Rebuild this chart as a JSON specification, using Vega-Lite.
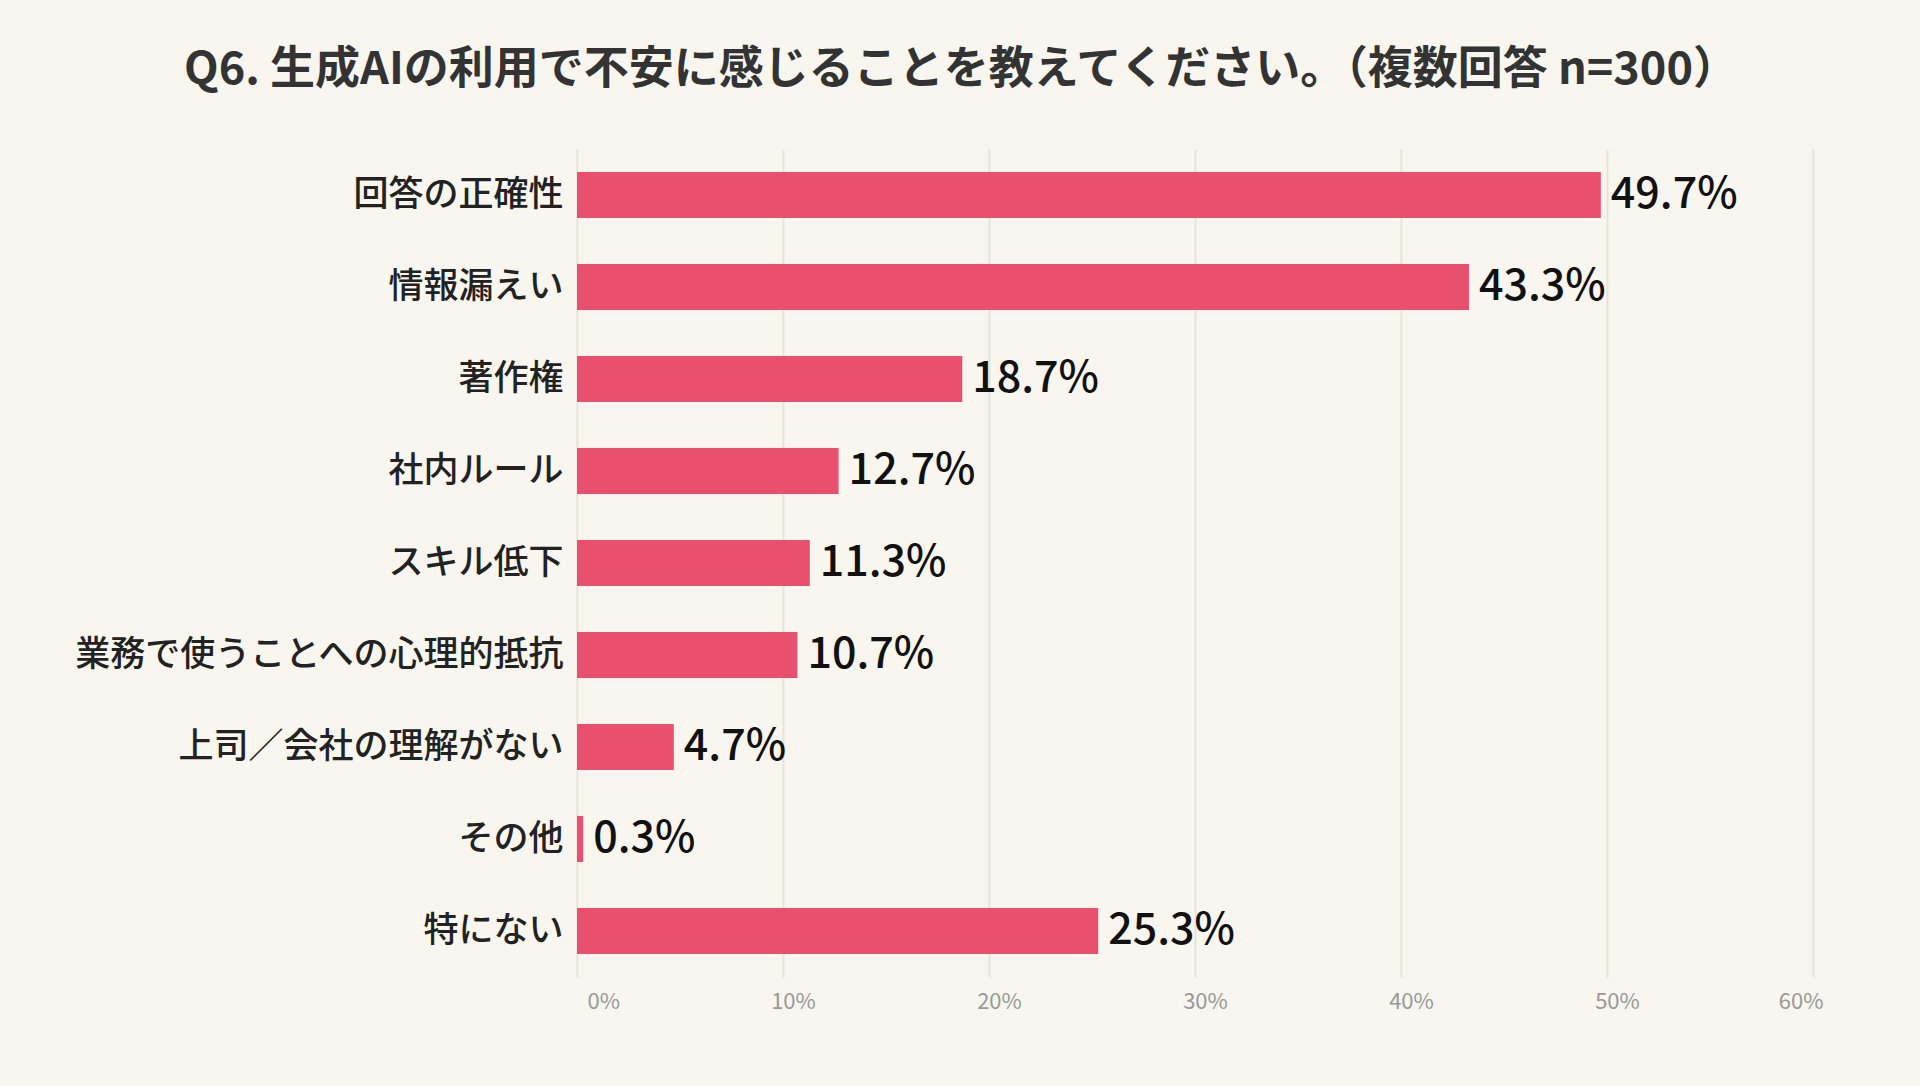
{
  "$schema": "https://vega.github.io/schema/vega-lite/v6.json",
  "width": 1236,
  "height": 828,
  "autosize": {"type": "none"},
  "padding": {"left": 577, "top": 149, "right": 107, "bottom": 109},
  "background": "#f8f6ee",
  "title": {
    "text": "Q6. 生成AIの利用で不安に感じることを教えてください。（複数回答 n=300）",
    "font": "Noto Sans CJK JP",
    "fontSize": 45,
    "fontWeight": "bold",
    "color": "#333333",
    "anchor": "middle",
    "frame": "group",
    "dx": -234,
    "offset": 56
  },
  "config": {
    "view": {"stroke": null},
    "font": "Noto Sans CJK JP"
  },
  "data": {
    "values": [
      {"item": "回答の正確性", "pct": 49.7},
      {"item": "情報漏えい", "pct": 43.3},
      {"item": "著作権", "pct": 18.7},
      {"item": "社内ルール", "pct": 12.7},
      {"item": "スキル低下", "pct": 11.3},
      {"item": "業務で使うことへの心理的抵抗", "pct": 10.7},
      {"item": "上司／会社の理解がない", "pct": 4.7},
      {"item": "その他", "pct": 0.3},
      {"item": "特にない", "pct": 25.3}
    ]
  },
  "encoding": {
    "y": {
      "field": "item",
      "type": "nominal",
      "sort": null,
      "title": null,
      "scale": {"paddingInner": 0.5, "paddingOuter": 0.25},
      "axis": {
        "domain": false,
        "ticks": false,
        "labelFontSize": 35,
        "labelFontWeight": 500,
        "labelColor": "#222222",
        "labelPadding": 14,
        "labelLimit": 700
      }
    },
    "x": {
      "field": "pct",
      "type": "quantitative",
      "title": null,
      "scale": {"domain": [0, 60]},
      "axis": {
        "values": [0, 10, 20, 30, 40, 50, 60],
        "labelExpr": "datum.value + '%'",
        "domain": false,
        "ticks": false,
        "labelFontSize": 22,
        "labelColor": "#999999",
        "labelPadding": 14,
        "labelOffset": 10,
        "grid": true,
        "gridColor": "#e6e3da",
        "gridWidth": 2
      }
    }
  },
  "layer": [
    {"mark": {"type": "bar", "color": "#e8506e"}},
    {
      "mark": {
        "type": "text",
        "align": "left",
        "dx": 10,
        "fontSize": 43,
        "fontWeight": 500,
        "color": "#111111",
        "text": {"expr": "format(datum.pct, '.1f') + '%'"}
      }
    }
  ]
}
